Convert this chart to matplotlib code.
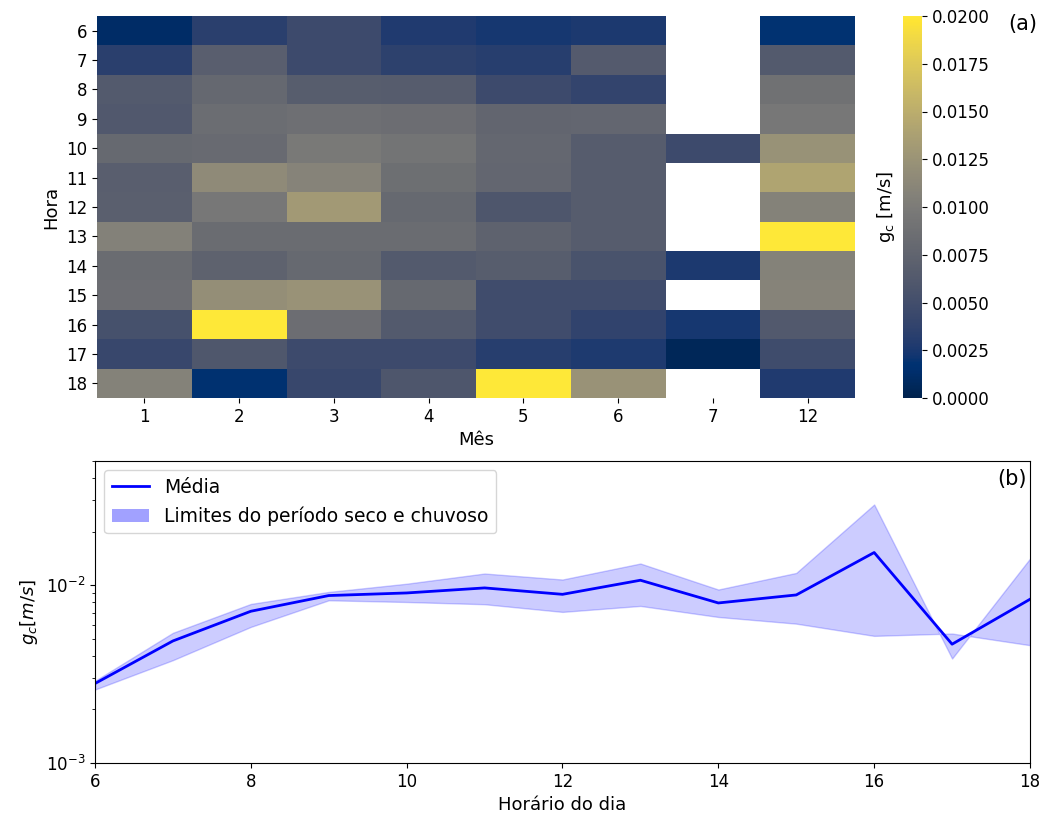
import numpy as np
import matplotlib
matplotlib.use("Agg")
import matplotlib.pyplot as plt
from matplotlib.patches import Patch
from matplotlib.lines import Line2D

# ---------------- data ----------------
months = ["1", "2", "3", "4", "5", "6", "7", "12"]
hours = [6, 7, 8, 9, 10, 11, 12, 13, 14, 15, 16, 17, 18]
nan = np.nan
# rows = hours 6..18, columns = months 1,2,3,4,5,6,7,12
gc_m1 = [0.0011, 0.0033, 0.0063, 0.0061, 0.0080, 0.0068, 0.0069, 0.0106, 0.0083, 0.0085, 0.0053, 0.0042, 0.0107]
gc_m2 = [0.0033, 0.0068, 0.0079, 0.0084, 0.0082, 0.0115, 0.0096, 0.0083, 0.0072, 0.0120, 0.0210, 0.0060, 0.0017]
gc_m3 = [0.0046, 0.0046, 0.0067, 0.0087, 0.0097, 0.0108, 0.0131, 0.0083, 0.0080, 0.0124, 0.0085, 0.0046, 0.0042]
gc_m4 = [0.0028, 0.0035, 0.0066, 0.0085, 0.0092, 0.0086, 0.0080, 0.0083, 0.0063, 0.0080, 0.0063, 0.0046, 0.0059]
gc_m5 = [0.0024, 0.0032, 0.0046, 0.0076, 0.0078, 0.0077, 0.0059, 0.0072, 0.0067, 0.0048, 0.0048, 0.0032, 0.0210]
gc_m6 = [0.0026, 0.0064, 0.0039, 0.0077, 0.0066, 0.0066, 0.0066, 0.0066, 0.0055, 0.0048, 0.0037, 0.0027, 0.0124]
gc_m7 = [nan, nan, nan, nan, 0.0046, nan, nan, nan, 0.0026, nan, 0.0024, 0.0005, nan]
gc_m12 = [0.0018, 0.0063, 0.0089, 0.0096, 0.0123, 0.0141, 0.0107, 0.0210, 0.0107, 0.0108, 0.0062, 0.0047, 0.0028]

hour_line = [6, 7, 8, 9, 10, 11, 12, 13, 14, 15, 16, 17, 18]
gc_mean = [0.0028, 0.00486, 0.00714, 0.00875, 0.00905, 0.00966, 0.00889, 0.01067, 0.00795, 0.00882, 0.01528, 0.00466, 0.00834]
gc_lim_a = [0.0029, 0.0054, 0.00785, 0.00917, 0.0102, 0.01164, 0.01077, 0.01325, 0.00946, 0.01173, 0.02846, 0.00387, 0.01413]
gc_lim_b = [0.00259, 0.00379, 0.00583, 0.00823, 0.00805, 0.00782, 0.00708, 0.00765, 0.00663, 0.00608, 0.00519, 0.00535, 0.00460]

# ---------------- figure ----------------
W, H = 1049, 818
fig = plt.figure(figsize=(W / 100, H / 100), dpi=100)
FS = 12      # tick labels
FL = 13      # axis labels
FP = 15      # panel letters

def fr(l, t, r, b):
    return [l / W, 1 - b / H, (r - l) / W, (b - t) / H]

# heatmap
ax1 = fig.add_axes(fr(97, 16, 855, 398))
cax = fig.add_axes(fr(903, 16, 922, 398))
grid = np.array([gc_m1, gc_m2, gc_m3, gc_m4, gc_m5, gc_m6, gc_m7, gc_m12]).T
grid = np.ma.masked_invalid(grid)
mesh = ax1.pcolormesh(np.arange(len(months) + 1), np.arange(len(hours) + 1), grid,
                      cmap="cividis", vmin=0, vmax=0.02)
ax1.set_xlim(0, len(months))
ax1.set_ylim(len(hours), 0)
ax1.set_xticks(np.arange(len(months)) + 0.5)
ax1.set_xticklabels(months, fontsize=FS)
ax1.set_yticks(np.arange(len(hours)) + 0.5)
ax1.set_yticklabels([str(h) for h in hours], fontsize=FS, rotation=0)
for s in ax1.spines.values():
    s.set_visible(False)
ax1.set_xlabel("Mês", fontsize=FL)
ax1.set_ylabel("Hora", fontsize=FL)

cb = fig.colorbar(mesh, cax=cax)
cb.outline.set_visible(False)
cb.set_ticks(np.arange(0, 0.02001, 0.0025))
cb.ax.set_yticklabels([f"{v:.4f}" for v in np.arange(0, 0.02001, 0.0025)], fontsize=FS)
cb.ax.yaxis.set_label_position("left")
cb.set_label("g$_\\mathregular{c}$ [m/s]", fontsize=FL)
fig.text(1023 / W, 1 - 24 / H, "(a)", ha="center", va="center", fontsize=FP)

# line plot
ax2 = fig.add_axes(fr(95, 461, 1030, 763))
ax2.plot(hour_line, gc_mean, color="blue", lw=2)
ax2.fill_between(hour_line, gc_lim_a, gc_lim_b, color="blue", alpha=0.2)
ax2.set_yscale("log")
ax2.set_ylim(1e-3, 0.05)
ax2.set_xlim(6, 18)
ax2.set_xticks(range(6, 19, 2))
ax2.tick_params(labelsize=FS)
ax2.set_xlabel("Horário do dia", fontsize=FL)
ax2.set_ylabel("$g_c[m/s]$", fontsize=FL)
handles = [Line2D([], [], color="blue", lw=2),
           Patch(facecolor="blue", alpha=0.37, edgecolor="none")]
ax2.legend(handles, ["Média", "Limites do período seco e chuvoso"],
           loc="upper left", fontsize=13.5)
ax2.text(0.997, 0.975, "(b)", transform=ax2.transAxes, ha="right", va="top", fontsize=FP)

fig.savefig("out.png", dpi=100)
